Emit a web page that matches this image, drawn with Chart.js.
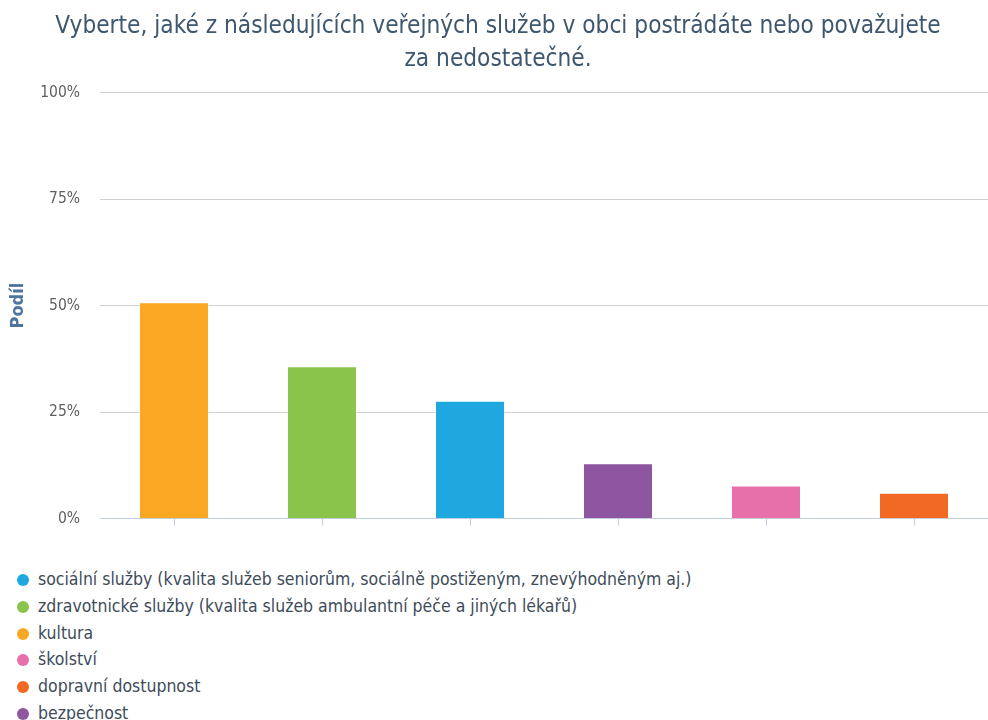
<!DOCTYPE html>
<html>
<head>
<meta charset="utf-8">
<script src="https://cdn.jsdelivr.net/npm/chart.js@4"></script>
<style>
  html, body { margin: 0; padding: 0; background: #fff; overflow: hidden; }
  #wrap { position: relative; width: 988px; height: 548px; }
  #legend { margin: 21px 0 0 17px; font-family: "DejaVu Sans Condensed", "DejaVu Sans", sans-serif; font-size: 17.5px; color: #3E4C5A; }
  #legend div { height: 26.8px; line-height: 20px; white-space: nowrap; }
  #legend span.dot { display: inline-block; width: 12px; height: 12px; border-radius: 50%; margin-right: 9px; vertical-align: -1px; }
</style>
</head>
<body>
<div id="wrap"><canvas id="chart"></canvas></div>
<div id="legend"></div>
<script>
// kategorie v pořadí sloupců
const categories = [
  'kultura',
  'zdravotnické služby (kvalita služeb ambulantní péče a jiných lékařů)',
  'sociální služby (kvalita služeb seniorům, sociálně postiženým, znevýhodněným aj.)',
  'bezpečnost',
  'školství',
  'dopravní dostupnost'
];
// podíl v procentech
const values = [50.8, 35.8, 27.7, 13.0, 7.8, 6.1];
// pořadí položek v legendě (indexy do categories)
const legendOrder = [2, 1, 0, 4, 5, 3];
const yTicks = [0, 25, 50, 75, 100];

const colors = ['#FAA723', '#8BC44A', '#1FA8E0', '#8E56A0', '#E76FAA', '#F26924'];

const datasets = legendOrder.map(function (i) {
  return {
    label: categories[i],
    data: categories.map(function (c, j) { return j === i ? values[i] : null; }),
    backgroundColor: colors[i],
    borderColor: 'rgba(255,255,255,0.6)',
    borderWidth: 1
  };
});

const chart = new Chart(document.getElementById('chart').getContext('2d'), {
  type: 'bar',
  data: { labels: categories, datasets: datasets },
  options: {
    responsive: true,
    maintainAspectRatio: false,
    animation: false,
    skipNull: true,
    categoryPercentage: 1,
    barPercentage: 0.473,
    layout: { padding: { left: 8, right: 0, top: 0, bottom: 0 } },
    plugins: {
      legend: { display: false },
      tooltip: { enabled: false },
      title: {
        display: true,
        text: ['Vyberte, jaké z následujících veřejných služeb v obci postrádáte nebo považujete', 'za nedostatečné.'],
        color: '#3E576F',
        font: { family: '"DejaVu Sans Condensed", "DejaVu Sans", sans-serif', size: 24.2, weight: 'normal', lineHeight: 1.333 },
        padding: { top: 11, bottom: 17 }
      }
    },
    scales: {
      x: {
        offset: true,
        grid: { display: true, drawOnChartArea: false, drawTicks: true, tickLength: 7, offset: false, color: '#C0D0E0' },
        border: { display: true, color: '#C0D0E0', width: 1 },
        ticks: { display: false }
      },
      y: {
        min: 0,
        max: 100,
        afterBuildTicks: function (scale) { scale.ticks = yTicks.map(function (v) { return { value: v }; }); },
        afterFit: function (scale) { scale.width = 92; },
        grid: { color: '#D0D0D0', drawTicks: false },
        border: { display: false },
        ticks: {
          padding: 20,
          color: '#606060',
          font: { family: '"DejaVu Sans Condensed", "DejaVu Sans", sans-serif', size: 15.5 },
          callback: function (v) { return v + '%'; }
        },
        title: {
          display: true,
          text: 'Podíl',
          color: '#4D759E',
          font: { family: '"DejaVu Sans Condensed", "DejaVu Sans", sans-serif', size: 18, weight: 'bold' },
          padding: { top: 0, bottom: 0 }
        }
      }
    }
  }
});

// legenda jako seznam pod grafem
const legendEl = document.getElementById('legend');
chart.data.datasets.forEach(function (ds) {
  const row = document.createElement('div');
  const dot = document.createElement('span');
  dot.className = 'dot';
  dot.style.background = ds.backgroundColor;
  row.appendChild(dot);
  row.appendChild(document.createTextNode(ds.label));
  legendEl.appendChild(row);
});
</script>
</body>
</html>
